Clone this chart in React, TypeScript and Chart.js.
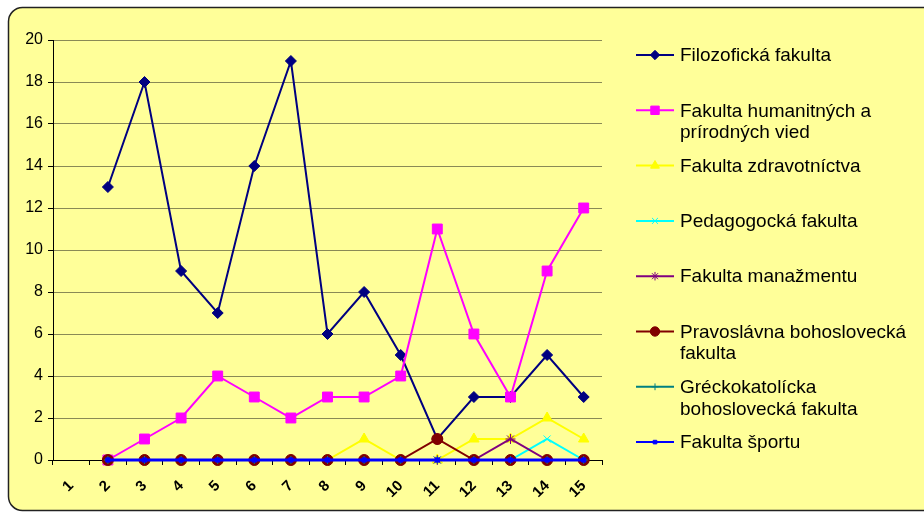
import React, { useEffect, useRef } from 'react';
import { Chart, registerables } from 'chart.js';
import { drawPoint } from 'chart.js/helpers';

Chart.register(...registerables);

const categories = ['1', '2', '3', '4', '5', '6', '7', '8', '9', '10', '11', '12', '13', '14', '15'];
const yTickMin = 0;
const yTickMax = 20;
const yTickStep = 2;

const filozoficka = [null, 13, 18, 9, 7, 14, 19, 6, 8, 5, 1, 3, 3, 5, 3];
const humanitne = [null, 0, 1, 2, 4, 3, 2, 3, 3, 4, 11, 6, 3, 9, 12];
const zdravotnictvo = [null, 0, 0, 0, 0, 0, 0, 0, 1, 0, 0, 1, 1, 2, 1];
const pedagogicka = [null, 0, 0, 0, 0, 0, 0, 0, 0, 0, 0, 0, 0, 1, 0];
const manazment = [null, 0, 0, 0, 0, 0, 0, 0, 0, 0, 0, 0, 1, 0, 0];
const pravoslavna = [null, 0, 0, 0, 0, 0, 0, 0, 0, 0, 1, 0, 0, 0, 0];
const greckokatolicka = [null, 0, 0, 0, 0, 0, 0, 0, 0, 0, 0, 0, 0, 0, 0];
const sport = [null, 0, 0, 0, 0, 0, 0, 0, 0, 0, 0, 0, 0, 0, 0];

const seriesNames: string[][] = [
  ['Filozofická fakulta'],
  ['Fakulta humanitných a', 'prírodných vied'],
  ['Fakulta zdravotníctva'],
  ['Pedagogocká fakulta'],
  ['Fakulta manažmentu'],
  ['Pravoslávna bohoslovecká', 'fakulta'],
  ['Gréckokatolícka', 'bohoslovecká fakulta'],
  ['Fakulta športu'],
];
const seriesValues = [filozoficka, humanitne, zdravotnictvo, pedagogicka, manazment, pravoslavna, greckokatolicka, sport];
const seriesColors = ['#000080', '#FF00FF', '#FFFF00', '#00FFFF', '#800080', '#800000', '#008080', '#0000FF'];
const seriesStyles = ['rectRot', 'rect', 'triangle', 'crossRot', 'star', 'circle', 'cross', 'rect'];
const seriesRadius = [5.5, 7, 6, 5, 5, 5.5, 4, 3];
const seriesLineWidth = [2, 2, 2, 2, 2, 2, 2, 3];

const FONT = '"Liberation Sans", Arial, sans-serif';

const backgroundPlugin = {
  id: 'frameBg',
  beforeDraw(chart: any) {
    const ctx = chart.ctx;
    ctx.save();
    ctx.fillStyle = '#FFFFFF';
    ctx.fillRect(0, 0, chart.width, chart.height);
    const x = 8.5, y = 7.5, w = 930, h = 503, r = 14;
    ctx.beginPath();
    ctx.moveTo(x + r, y);
    ctx.lineTo(x + w - r, y);
    ctx.arcTo(x + w, y, x + w, y + r, r);
    ctx.lineTo(x + w, y + h - r);
    ctx.arcTo(x + w, y + h, x + w - r, y + h, r);
    ctx.lineTo(x + r, y + h);
    ctx.arcTo(x, y + h, x, y + h - r, r);
    ctx.lineTo(x, y + r);
    ctx.arcTo(x, y, x + r, y, r);
    ctx.closePath();
    ctx.fillStyle = '#FFFF99';
    ctx.fill();
    ctx.lineWidth = 1.5;
    ctx.strokeStyle = '#222';
    ctx.stroke();
    ctx.restore();
  },
};

const legendPlugin = {
  id: 'customLegend',
  afterDraw(chart: any) {
    const ctx = chart.ctx;
    ctx.save();
    chart.data.datasets.forEach((ds: any, i: number) => {
      const y = 55 + i * 55.3;
      ctx.beginPath();
      ctx.strokeStyle = ds.borderColor;
      ctx.lineWidth = 2;
      ctx.moveTo(636, y);
      ctx.lineTo(674, y);
      ctx.stroke();
      ctx.fillStyle = ds.pointBackgroundColor;
      ctx.strokeStyle = ds.pointBorderColor;
      ctx.lineWidth = 1;
      drawPoint(ctx, { pointStyle: ds.pointStyle, radius: ds.pointRadius * 0.85, rotation: 0, borderWidth: 1 } as any, 655, y);
      ctx.fillStyle = '#000';
      ctx.font = `19px ${FONT}`;
      ctx.textBaseline = 'middle';
      ctx.textAlign = 'left';
      seriesNames[i].forEach((line, j) => {
        ctx.fillText(line, 680, y + 1 + j * 21.5);
      });
    });
    ctx.restore();
  },
};

export default function App() {
  const canvasRef = useRef<HTMLCanvasElement>(null);

  useEffect(() => {
    document.body.style.margin = '0';
    const canvas = canvasRef.current;
    if (!canvas) return;
    const n = seriesValues.length;
    const chart = new Chart(canvas, {
      type: 'line',
      data: {
        labels: categories,
        datasets: seriesValues.map((vals, i) => ({
          label: seriesNames[i].join(' '),
          data: vals,
          borderColor: seriesColors[i],
          backgroundColor: seriesColors[i],
          pointBackgroundColor: seriesColors[i],
          pointBorderColor: seriesColors[i],
          pointStyle: seriesStyles[i] as any,
          pointRadius: seriesRadius[i],
          pointBorderWidth: 1,
          borderWidth: seriesLineWidth[i],
          tension: 0,
          fill: false,
          clip: false,
          order: n - 1 - i,
        })),
      },
      options: {
        animation: false,
        responsive: false,
        maintainAspectRatio: false,
        devicePixelRatio: 1,
        layout: { padding: { left: 0, top: 40, right: 322, bottom: 0 } },
        plugins: {
          legend: { display: false },
          tooltip: { enabled: false },
        },
        scales: {
          x: {
            type: 'category',
            offset: true,
            grid: {
              display: true,
              drawOnChartArea: false,
              drawTicks: true,
              tickLength: 5,
              color: '#000',
              offset: true,
            },
            border: { display: true, color: '#000', width: 1 },
            ticks: {
              autoSkip: false,
              minRotation: 45,
              maxRotation: 45,
              color: '#000',
              padding: 12,
              font: { family: FONT, size: 15, weight: 'bold' },
            },
            afterFit: (s: any) => {
              s.height = 53;
            },
          },
          y: {
            min: yTickMin,
            max: yTickMax,
            ticks: {
              stepSize: yTickStep,
              color: '#000',
              padding: 5,
              font: { family: FONT, size: 16 },
            },
            grid: {
              color: 'rgba(60,60,40,0.6)',
              tickColor: '#000',
              tickLength: 5,
              lineWidth: 1,
            },
            border: { display: true, color: '#000', width: 1 },
            afterFit: (s: any) => {
              s.width = 53;
            },
          },
        },
      } as any,
      plugins: [backgroundPlugin, legendPlugin],
    });
    return () => chart.destroy();
  }, []);

  return (
    <div style={{ width: 924, height: 513, position: 'relative' }}>
      <canvas ref={canvasRef} width={924} height={513} style={{ display: 'block', width: 924, height: 513 }} />
    </div>
  );
}
